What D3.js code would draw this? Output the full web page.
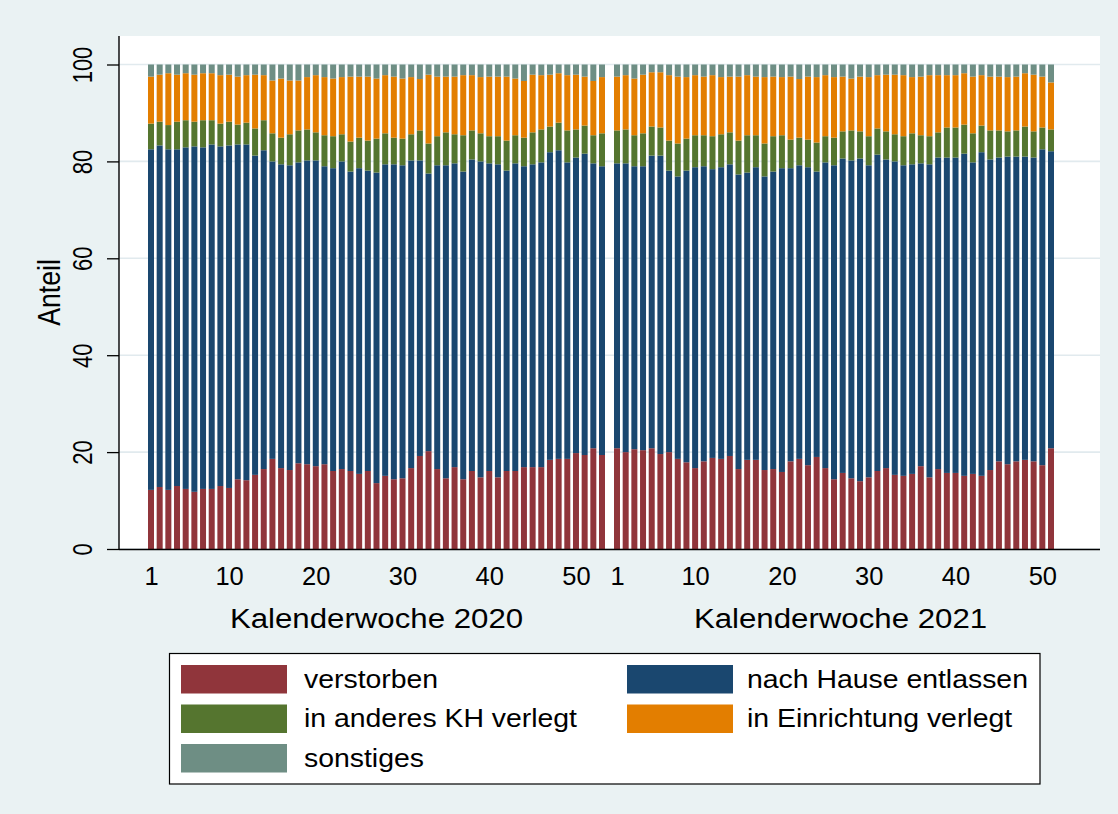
<!DOCTYPE html>
<html><head><meta charset="utf-8">
<script src="https://cdn.jsdelivr.net/npm/d3@7/dist/d3.min.js"></script>
<style>
body{margin:0;background:#eaf2f3}
svg{display:block}
text{font-family:"Liberation Sans",Arial,Helvetica,sans-serif;fill:#000}
</style></head><body>
<svg id="chart" width="1118" height="814"></svg>
<script>
// ---- data (shares in %, per calendar week) ----
const seriesNames = ["verstorben","nach Hause entlassen","in anderes KH verlegt","in Einrichtung verlegt","sonstiges"];
const seriesColors = ["#90353b","#1a476f","#55752f","#e37e00","#6e8e84"];
const yearTitles = ["Kalenderwoche 2020","Kalenderwoche 2021"];
const xTickValues = [1,10,20,30,40,50];
const yTickValues = [0,20,40,60,80,100];

const verstorben2020 = [12.2,12.8,12.2,13.0,12.4,11.8,12.4,12.4,13.0,12.6,14.4,14.2,15.3,16.5,18.6,16.7,16.3,17.7,17.5,17.1,17.5,16.1,16.5,16.1,15.5,16.1,13.6,15.1,14.4,14.6,16.7,19.2,20.2,16.5,14.6,16.9,14.4,16.1,14.8,16.1,14.8,16.1,16.1,16.9,16.9,16.9,18.4,18.6,18.6,19.8,19.4,20.8,19.4];
const nachHause2020 = [70.3,70.5,70.3,69.5,70.5,71.3,70.5,71.1,70.1,70.7,69.1,69.3,65.9,65.8,61.4,62.7,62.9,62.1,62.7,63.1,61.5,62.5,63.5,61.8,63.1,62.0,64.1,64.3,65.0,64.6,63.5,61.0,57.3,62.7,64.6,62.7,63.5,64.3,65.2,63.5,64.6,62.0,63.5,62.1,62.5,62.9,63.5,63.7,61.2,61.0,62.2,58.8,59.6];
const khVerlegt2020 = [5.3,4.9,5.0,5.7,5.6,5.1,5.6,5.0,4.7,4.9,4.1,4.5,5.6,6.2,5.8,5.5,6.4,6.6,6.4,5.8,6.4,6.6,5.6,6.2,6.3,6.2,7.0,6.4,5.5,5.5,5.4,6.2,6.2,6.0,6.8,6.0,7.5,6.0,5.8,5.6,5.8,6.2,5.8,5.9,6.6,6.8,5.3,5.7,6.6,5.8,5.8,5.8,6.8];
const einrichtung2020 = [9.7,9.7,10.7,9.7,9.7,9.7,9.7,9.7,10.0,9.7,9.9,9.8,11.1,9.3,10.9,12.2,11.1,10.3,10.8,11.8,12.0,11.9,11.8,13.4,12.6,13.2,12.4,12.0,12.6,12.4,11.8,10.6,14.2,12.3,11.5,11.9,12.4,11.4,11.6,12.3,12.3,13.2,11.7,11.7,11.9,11.2,10.7,10.2,11.4,11.3,10.1,11.2,11.6];
const sonstiges2020 = [2.5,2.1,1.8,2.1,1.8,2.1,1.8,1.8,2.2,2.1,2.5,2.2,2.1,2.2,3.3,2.9,3.3,3.3,2.6,2.2,2.6,2.9,2.6,2.5,2.5,2.5,2.9,2.2,2.5,2.9,2.6,3.0,2.1,2.5,2.5,2.5,2.2,2.2,2.6,2.5,2.5,2.5,2.9,3.4,2.1,2.2,2.1,1.8,2.2,2.1,2.5,3.4,2.6];

const verstorben2021 = [20.8,20.0,20.6,20.4,20.8,19.6,20.0,18.6,17.9,16.7,18.1,18.8,18.6,19.2,16.5,18.4,18.4,16.3,16.5,15.9,18.1,18.6,17.3,19.0,16.7,14.4,15.7,14.6,14.0,14.8,16.1,16.7,15.3,15.1,15.5,17.1,14.8,16.5,15.7,15.7,15.1,15.5,15.1,16.3,18.1,17.5,18.1,18.4,18.1,17.3,20.8];
const nachHause2021 = [58.8,59.6,58.4,58.6,60.4,61.6,58.1,58.3,60.2,62.1,60.9,59.6,60.2,60.2,60.8,59.3,60.4,60.6,61.4,62.7,60.5,60.6,61.5,58.9,63.1,64.8,64.9,65.6,66.6,64.4,65.3,63.7,64.7,64.1,63.9,62.5,64.6,64.3,65.1,65.1,66.5,64.3,66.8,64.1,62.7,63.5,62.9,62.6,62.7,65.2,61.3];
const khVerlegt2021 = [6.8,7.0,6.4,6.8,6.0,5.8,6.2,6.8,6.6,6.6,6.4,6.8,6.8,6.6,7.0,7.7,6.6,6.8,7.3,6.8,5.9,5.7,5.7,6.0,5.4,5.7,5.6,6.2,5.6,6.0,5.4,5.8,5.6,6.0,6.4,5.8,5.8,5.2,6.2,6.2,6.0,6.0,5.5,6.0,5.6,5.2,5.4,6.2,5.4,4.5,4.5];
const einrichtung2021 = [11.1,11.2,11.7,12.1,11.2,11.4,13.5,13.8,12.7,12.4,12.1,12.6,11.8,11.5,13.2,12.4,12.1,13.7,12.3,12.0,13.0,12.1,13.0,13.5,12.6,12.5,11.3,10.7,11.3,12.2,11.0,11.7,12.3,12.6,11.6,12.1,12.6,11.8,10.8,10.8,10.6,11.7,10.4,11.1,11.1,11.2,11.1,11.0,11.7,10.5,9.7];
const sonstiges2021 = [2.5,2.2,2.9,2.1,1.6,1.6,2.2,2.5,2.6,2.2,2.5,2.2,2.6,2.5,2.5,2.2,2.5,2.6,2.5,2.6,2.5,3.0,2.5,2.6,2.2,2.6,2.5,2.9,2.5,2.6,2.2,2.1,2.1,2.2,2.6,2.5,2.2,2.2,2.2,2.2,1.8,2.5,2.2,2.5,2.5,2.6,2.5,1.8,2.1,2.5,3.7];

// ---- build tables ----
function buildRows(cols){
  return cols[0].map((_,i)=>{
    const r={week:i+1};
    seriesNames.forEach((s,j)=>{r[s]=cols[j][i];});
    return r;
  });
}
const rows2020 = buildRows([verstorben2020,nachHause2020,khVerlegt2020,einrichtung2020,sonstiges2020]);
const rows2021 = buildRows([verstorben2021,nachHause2021,khVerlegt2021,einrichtung2021,sonstiges2021]);

// ---- layout ----
const W=1118,H=814;
const plot={left:119,right:1100,top:36,bottom:549};
const svg=d3.select("#chart");
svg.append("rect").attr("width",W).attr("height",H).attr("fill","#eaf2f3");
svg.append("rect").attr("x",plot.left).attr("y",plot.top)
   .attr("width",plot.right-plot.left).attr("height",plot.bottom-plot.top).attr("fill","#fff");

const y=d3.scaleLinear().domain([0,100]).range([plot.bottom,64.5]);
const x2020=d3.scaleLinear().domain([1,53]).range([151,602]);
const x2021=d3.scaleLinear().domain([1,51]).range([617,1051]);
const barW=6;
const color=d3.scaleOrdinal().domain(seriesNames).range(seriesColors);

// gridlines
svg.append("g").selectAll("line").data(yTickValues).join("line")
  .attr("x1",plot.left).attr("x2",plot.right)
  .attr("y1",d=>y(d)).attr("y2",d=>y(d))
  .attr("stroke","#e1eaee").attr("stroke-width",1.6);

// bars
const stack=d3.stack().keys(seriesNames);
[[rows2020,x2020],[rows2021,x2021]].forEach(([rows,xs])=>{
  const layers=stack(rows);
  svg.append("g").selectAll("g").data(layers).join("g")
    .attr("fill",d=>color(d.key))
    .selectAll("rect").data(d=>d).join("rect")
    .attr("x",d=>xs(d.data.week)-barW/2)
    .attr("width",barW)
    .attr("y",d=>y(d[1]))
    .attr("height",d=>y(d[0])-y(d[1]));
});

// y axis
const yAxis=svg.append("g").attr("transform",`translate(${plot.left},0)`)
  .call(d3.axisLeft(y).tickValues(yTickValues).tickSize(12).tickFormat(d3.format("d")));
yAxis.select(".domain").remove();
yAxis.selectAll(".tick line").attr("stroke","#000").attr("stroke-width",1.3);
yAxis.selectAll(".tick text")
  .attr("x",null).attr("dy",null).attr("text-anchor","middle")
  .attr("transform",`translate(-27,0) scale(1.22,1) rotate(-90)`)
  .style("font-size","22px").attr("fill","#000").attr("font-family",null);
svg.append("line").attr("x1",plot.left).attr("x2",plot.left).attr("y1",plot.top).attr("y2",plot.bottom)
  .attr("stroke","#000").attr("stroke-width",1.4);

// x axes
[x2020,x2021].forEach(xs=>{
  const g=svg.append("g").attr("transform",`translate(0,${plot.bottom})`)
    .call(d3.axisBottom(xs).tickValues(xTickValues).tickSize(0).tickFormat(d3.format("d")));
  g.select(".domain").remove();
  g.selectAll(".tick text").attr("y",null).attr("dy",null).attr("text-anchor","middle")
    .attr("transform",`translate(0,36) scale(0.98,1)`)
    .style("font-size","26px").attr("fill","#000").attr("font-family",null);
});
svg.append("line").attr("x1",plot.left).attr("x2",plot.right).attr("y1",plot.bottom+0.5).attr("y2",plot.bottom+0.5)
  .attr("stroke","#000").attr("stroke-width",1.6);

// axis titles
const titleX=[ (x2020(1)+x2020(53))/2, (x2021(1)+x2021(52.5))/2 ];
yearTitles.forEach((t,i)=>{
  svg.append("text").attr("text-anchor","middle")
    .attr("transform",`translate(${titleX[i]},628) scale(1.135,1)`)
    .style("font-size","27.5px").text(t);
});
svg.append("text").attr("text-anchor","middle")
  .attr("transform",`translate(60,${(plot.top+plot.bottom)/2}) scale(1.18,1) rotate(-90)`)
  .style("font-size","26.7px").text("Anteil");

// legend
const leg=svg.append("g");
leg.append("rect").attr("x",169.5).attr("y",653.5).attr("width",870.5).attr("height",130.5)
  .attr("fill","#fff").attr("stroke","#000").attr("stroke-width",1.2);
const legCols=[{sx:181,tx:304},{sx:627,tx:747}];
const legRowsY=[665,704.5,744];
seriesNames.forEach((s,i)=>{
  const c=legCols[i%2], ry=legRowsY[Math.floor(i/2)];
  leg.append("rect").attr("x",c.sx).attr("y",ry).attr("width",106).attr("height",28.5).attr("fill",color(s));
  leg.append("text").attr("transform",`translate(${c.tx},${ry+22.5}) scale(1.08,1)`)
    .style("font-size","26.3px").text(s);
});
</script>
</body></html>
